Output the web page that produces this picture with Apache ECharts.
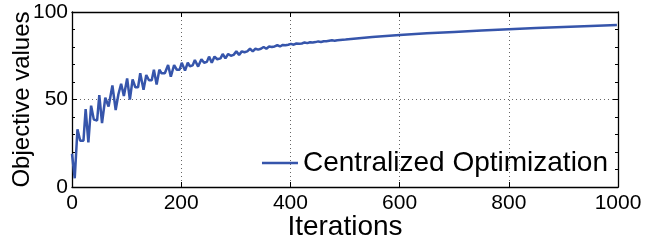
<!DOCTYPE html>
<html><head><meta charset="utf-8">
<script src="https://cdn.jsdelivr.net/npm/echarts@6/dist/echarts.min.js"></script>
<style>html,body{margin:0;padding:0;background:#fff}#c{width:657px;height:244px}</style>
</head><body><div id="c"></div>
<script>
const seriesName = 'Centralized Optimization';
const xAxisTitle = 'Iterations';
const yAxisTitle = 'Objective values';
const xRange = [0, 1000, 200];
const yRange = [0, 100, 50];
const iterations = [0,5,10,15,21,25,30,35,40,46,50,55,61,67,74,80,85,90,95,101,106,111,116,121,125,131,136,141,146,150,155,160,164,170,176,181,187,192,197,201,207,212,216,221,225,231,237,242,247,251,256,261,266,272,276,281,286,291,296,301,306,311,316,321,326,331,336,341,346,351,356,361,366,371,376,381,386,391,396,401,406,411,416,421,426,431,436,441,446,451,456,461,466,476,481,486,501,550,600,650,700,750,800,850,900,950,998];
const objectiveValues = [19,5,33,26.5,26.5,44.5,25.5,46.5,38.5,38,52.5,36.5,51,46,58,44,53,59,52,62,50,61.5,57,57,65,55.5,64,61,61,67,58.5,67,65,65,69.7,63,69.7,67,67,71,66.5,71,69,69.5,72.6,68.8,73,71,71.5,74.5,71,74.5,73,73.5,76,73.5,76,75,75.5,77.5,75.5,77.5,77,77.5,79,77.5,79,78.5,79,80,79,80.3,80,80.3,81,80.3,81.2,81,81.3,81.8,81.3,82,81.8,82,82.6,82.2,82.7,82.6,82.8,83.2,82.9,83.3,83.3,83.8,83.6,83.9,84.3,85.7,86.9,87.8,88.6,89.4,90.1,90.8,91.4,92.0,92.6];

const FONT = 'Liberation Sans';
const lineColor = '#3655ab';
const chart = echarts.init(document.getElementById('c'), null, {renderer: 'canvas'});
const axisLine = {show: true, onZero: false, lineStyle: {color: '#000', width: 1.3}};
const dotted = {show: true, lineStyle: {color: '#666', width: 1, type: [1, 3]}};
const plain = v => String(v);
chart.setOption({
  animation: false,
  backgroundColor: '#fff',
  grid: {left: 72, right: 39, top: 12, bottom: 57, containLabel: false, outerBoundsMode: 'none'},
  legend: {
    right: 49, top: 149, padding: 0,
    icon: 'path://M0,0 L36,0 L36,2.6 L0,2.6 Z', itemWidth: 36, itemHeight: 2.6,
    textStyle: {fontFamily: FONT, fontSize: 28, color: '#000'},
    data: [{name: seriesName, itemStyle: {color: lineColor}}]
  },
  xAxis: [{
    type: 'value', min: xRange[0], max: xRange[1], interval: xRange[2], position: 'bottom',
    name: xAxisTitle, nameLocation: 'middle', nameGap: 26, nameMoveOverlap: false,
    nameTextStyle: {fontFamily: FONT, fontSize: 28, color: '#000'},
    axisLine: axisLine,
    axisTick: {show: true, inside: true, length: 5, lineStyle: {color: '#000'}},
    axisLabel: {fontFamily: FONT, fontSize: 21, color: '#000', margin: 6, formatter: plain},
    splitLine: dotted
  }, {
    type: 'value', min: xRange[0], max: xRange[1], interval: xRange[2], position: 'top',
    axisLine: axisLine,
    axisTick: {show: true, inside: true, length: 5, lineStyle: {color: '#000'}},
    axisLabel: {show: false}, splitLine: {show: false}
  }],
  yAxis: [{
    type: 'value', min: yRange[0], max: yRange[1], interval: yRange[2], position: 'left',
    name: yAxisTitle, nameLocation: 'middle', nameGap: 38, nameMoveOverlap: false,
    nameTextStyle: {fontFamily: FONT, fontSize: 24, color: '#000'},
    axisLine: axisLine,
    axisTick: {show: true, inside: true, length: 5, lineStyle: {color: '#000'}},
    minorTick: {show: true, splitNumber: 5, length: 3, lineStyle: {color: '#000'}},
    axisLabel: {fontFamily: FONT, fontSize: 21, color: '#000', margin: 4, formatter: plain},
    splitLine: dotted
  }, {
    type: 'value', min: yRange[0], max: yRange[1], interval: yRange[2], position: 'right',
    axisLine: axisLine,
    axisTick: {show: true, inside: true, length: 5, lineStyle: {color: '#000'}},
    minorTick: {show: true, splitNumber: 5, length: 3, lineStyle: {color: '#000'}},
    axisLabel: {show: false}, splitLine: {show: false}
  }],
  series: [{
    name: seriesName, type: 'line', showSymbol: false, symbol: 'none',
    xAxisIndex: 0, yAxisIndex: 0,
    lineStyle: {color: lineColor, width: 2.5}, itemStyle: {color: lineColor},
    data: iterations.map((x, i) => [x, objectiveValues[i]])
  }]
});
</script></body></html>
